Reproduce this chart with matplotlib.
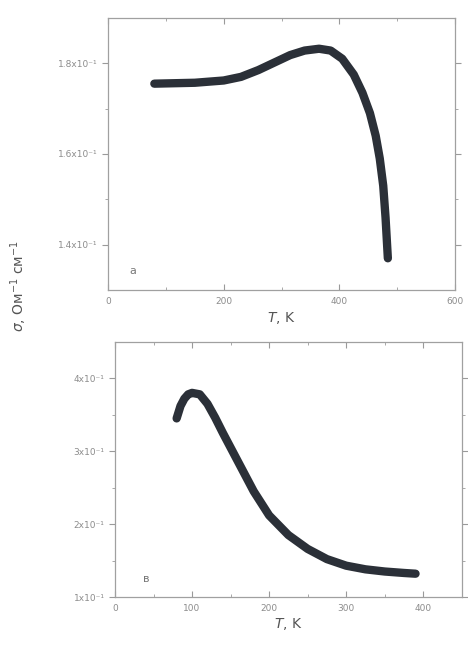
import matplotlib
matplotlib.use('Agg')
from matplotlib import pyplot as plt

# panel a
t_a = [80, 150, 200, 230, 260, 290, 315, 340, 365, 385, 405, 425, 440, 453, 463, 470, 476, 480, 484]
sigma_a = [1.755, 1.757, 1.762, 1.770, 1.785, 1.803, 1.818, 1.828, 1.832, 1.828, 1.81, 1.775,
           1.735, 1.69, 1.64, 1.59, 1.53, 1.46, 1.37]
yticks_a = [1.4, 1.6, 1.8]
ylabels_a = ['1.4x10\u207b\u00b9', '1.6x10\u207b\u00b9', '1.8x10\u207b\u00b9']
xticks_a = [0, 200, 400, 600]

# panel b
t_b = [80, 85, 90, 95, 100, 110, 120, 130, 140, 160, 180, 200, 225, 250, 275, 300, 325, 350,
       375, 390]
sigma_b = [3.45, 3.62, 3.72, 3.78, 3.80, 3.78, 3.65, 3.46, 3.25, 2.85, 2.45, 2.12, 1.85, 1.66,
           1.52, 1.43, 1.38, 1.35, 1.33, 1.32]
yticks_b = [1, 2, 3, 4]
ylabels_b = ['1x10\u207b\u00b9', '2x10\u207b\u00b9', '3x10\u207b\u00b9', '4x10\u207b\u00b9']
xticks_b = [0, 100, 200, 300, 400]

grey = '#8c8c8c'
curve = '#2b3038'


def style_axes(ax):
    for sp in ax.spines.values():
        sp.set_color('#a0a0a0')
        sp.set_linewidth(0.9)
        sp.set_linestyle((0, (4, 1)))
    ax.tick_params(axis='both', which='both', colors='#9a9a9a', labelcolor=grey,
                   labelsize=6.5, top=True, right=True)
    ax.tick_params(axis='x', which='both', direction='in', pad=5)
    ax.tick_params(axis='y', which='both', direction='out')
    ax.tick_params(which='major', length=4)
    ax.tick_params(which='minor', length=2.5)


fig = plt.figure(figsize=(4.68, 6.51), dpi=100)

ax1 = fig.add_axes([0.231, 0.5545, 0.741, 0.418])
ax1.plot(t_a, sigma_a, color=curve, lw=6, solid_capstyle='round', solid_joinstyle='round')
ax1.set_xlim(0, 600)
ax1.set_ylim(1.3, 1.9)
ax1.set_xticks(xticks_a)
ax1.set_xticks([100, 300, 500], minor=True)
ax1.set_yticks(yticks_a)
ax1.set_yticklabels(ylabels_a)
ax1.set_yticks([1.5, 1.7], minor=True)
style_axes(ax1)
ax1.text(0.06, 0.06, 'a', transform=ax1.transAxes, fontsize=8, color='#777777')
ax1.set_xlabel('$T$, K', fontsize=10, color='#555555', labelpad=3)

ax2 = fig.add_axes([0.2457, 0.0829, 0.741, 0.392])
ax2.plot(t_b, sigma_b, color=curve, lw=6, solid_capstyle='round', solid_joinstyle='round')
ax2.set_xlim(0, 450)
ax2.set_ylim(1, 4.5)
ax2.set_xticks(xticks_b)
ax2.set_xticks([50, 150, 250, 350], minor=True)
ax2.set_yticks(yticks_b)
ax2.set_yticklabels(ylabels_b)
ax2.set_yticks([1.5, 2.5, 3.5], minor=True)
style_axes(ax2)
ax2.text(0.08, 0.06, '\u0432', transform=ax2.transAxes, fontsize=8, color='#777777')
ax2.set_xlabel('$T$, K', fontsize=10, color='#555555', labelpad=2)

fig.text(0.04, 0.56, '$\\sigma$, \u041e\u043c$^{-1}$ \u0441\u043c$^{-1}$', rotation=90,
         fontsize=10, color='#555555', ha='center', va='center')

plt.savefig('out.png', dpi=100)
